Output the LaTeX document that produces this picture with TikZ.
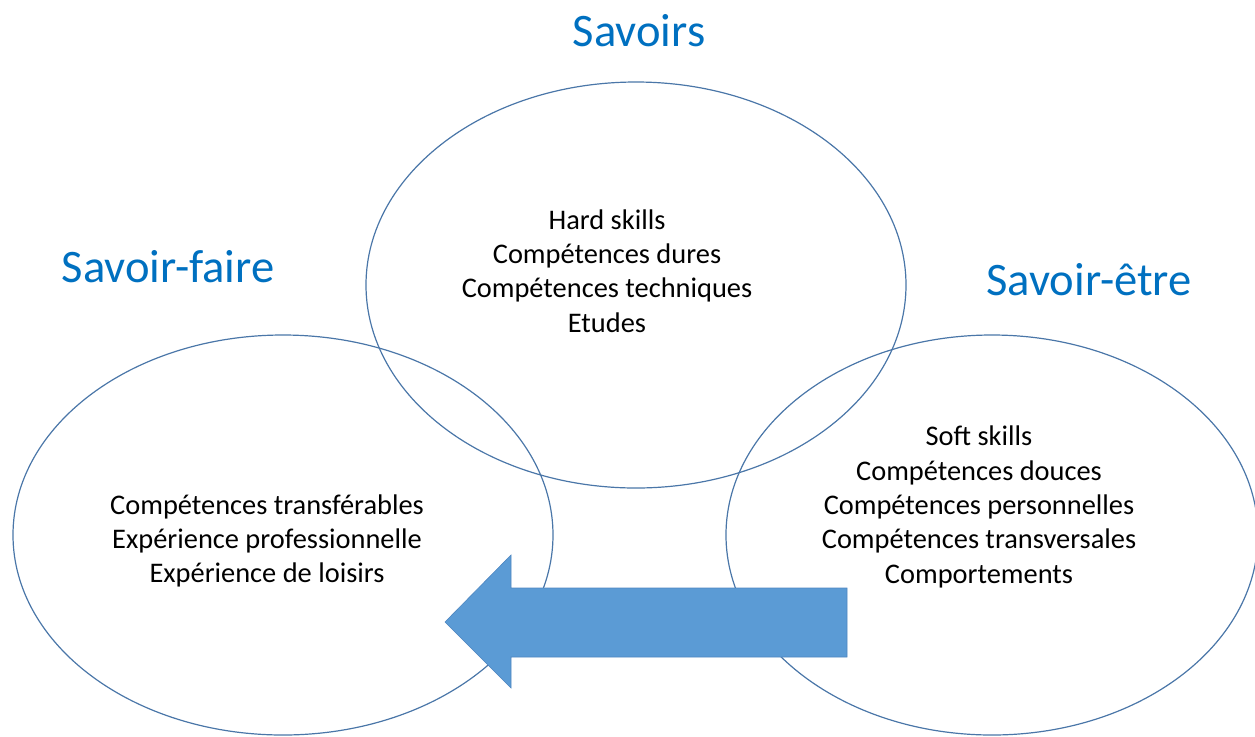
\documentclass[tikz,border=0pt]{standalone}
\usepackage{fontspec}
\setmainfont{Carlito}
\usetikzlibrary{shapes.geometric}
\definecolor{ringc}{HTML}{4A76A8}
\definecolor{titlec}{HTML}{0070C0}
\definecolor{arrowfill}{HTML}{5B9BD5}
\definecolor{arrowline}{HTML}{4F86C0}
\begin{document}
\begin{tikzpicture}[x=0.5pt,y=-0.5pt,
  ring/.style={ellipse, draw=ringc, line width=0.6pt, inner sep=0pt},
  body/.style={align=center, inner sep=0pt, font=\fontsize{14.2}{17.2}\selectfont},
  titletext/.style={text=titlec, inner sep=0pt, font=\fontsize{23.3}{27}\selectfont},
  bigarrow/.style={fill=arrowfill, draw=arrowline, line width=0.3pt, line join=miter}]
\useasboundingbox (0,0) rectangle (1255,736);
% ellipses
\node[ring, minimum width=270pt, minimum height=203pt] (savoirs) at (636,285) {};
\node[ring, minimum width=270pt, minimum height=200pt] (faire) at (283,535) {};
\node[ring, minimum width=266pt, minimum height=200pt] (etre) at (992,535) {};
% titles
\node[titletext] (tsavoirs) at (639,31) {Savoirs};
\node[titletext] (tfaire) at (168,267) {Savoir-faire};
\node[titletext] (tetre) at (1089,280) {Savoir-être};
% contents
\node[body] (hard) at (607,271) {Hard skills\\Compétences dures\\Compétences techniques\\Etudes};
\node[body] (transf) at (267,541) {Compétences transférables\\Expérience professionnelle\\Expérience de loisirs};
\node[body] (soft) at (979,507) {Soft skills\\Compétences douces\\Compétences personnelles\\Compétences transversales\\Comportements};
% arrow
\coordinate (atail1) at (847,588);
\coordinate (atail2) at (847,657);
\coordinate (atip) at (445,622);
\draw[bigarrow] (atail1) -- (511,588) -- (511,555) -- (atip) -- (511,688) -- (511,657) -- (atail2) -- cycle;
\end{tikzpicture}
\end{document}
